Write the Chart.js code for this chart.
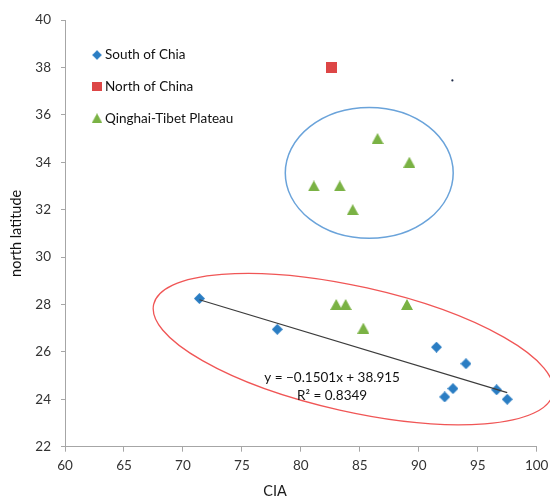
<!DOCTYPE html>
<html>
<head>
<meta charset="utf-8">
<script src="https://cdn.jsdelivr.net/npm/chart.js@4.4.1/dist/chart.umd.min.js"></script>
<style>
  html, body { margin: 0; padding: 0; background: #ffffff; }
  #wrap { width: 550px; height: 498px; }
</style>
</head>
<body>
<div id="wrap"><canvas id="c" width="550" height="498"></canvas></div>
<script>
// CIA (chemical index of alteration) against north latitude for three regions.
const southLabel = 'South of Chia';
const southCIA = [71.4, 78.0, 91.5, 94.0, 92.9, 92.2, 96.6, 97.5];
const southLat = [28.25, 26.95, 26.2, 25.5, 24.45, 24.1, 24.4, 24.0];

const northLabel = 'North of China';
const northCIA = [82.6];
const northLat = [38.0];

const plateauLabel = 'Qinghai-Tibet Plateau';
const plateauCIA = [86.5, 89.2, 81.1, 83.3, 84.4, 83.0, 83.8, 89.0, 85.3];
const plateauLat = [35, 34, 33, 33, 32, 28, 28, 28, 27];

// small dark speck above the plateau group
const speckCIA = [92.85];
const speckLat = [37.45];

// linear fit through the South of China samples
const fitSlope = -0.1501;
const fitIntercept = 38.915;
const fitR2 = 0.8349;

const xTitle = 'CIA';
const yTitle = 'north latitude';
const xMin = 60, xMax = 100, xStep = 5;
const yMin = 22, yMax = 40, yStep = 2;

// outlines around the two clusters (centre and semi-axes in data units)
const outlines = [
  { cx: 85.8, cy: 33.55, rx: 7.12, ry: 2.76, angle: 0, color: '#6aa3da', width: 1.5 },
  { cx: 84.45, cy: 26.12, rx: 17.35, ry: 2.64, angle: 12.6, color: '#f05656', width: 1.3 }
];

const toPoints = (xs, ys) => xs.map((x, i) => ({ x: x, y: ys[i] }));

const fitX0 = Math.min(...southCIA);
const fitX1 = Math.max(...southCIA);
const fitLine = [fitX0, fitX1].map(x => ({ x: x, y: fitSlope * x + fitIntercept }));
const fitText1 = 'y = \u2212' + Math.abs(fitSlope).toFixed(4) + 'x + ' + fitIntercept.toFixed(3);
const fitText2 = 'R\u00B2 = ' + fitR2.toFixed(4);

// marker images, centred on their bounding box
function marker(shape, w, h, color) {
  const c = document.createElement('canvas');
  c.width = w; c.height = h;
  const g = c.getContext('2d');
  g.fillStyle = color;
  g.beginPath();
  if (shape === 'diamond') {
    g.moveTo(w / 2, 0); g.lineTo(w, h / 2); g.lineTo(w / 2, h); g.lineTo(0, h / 2);
  } else if (shape === 'square') {
    g.rect(0, 0, w, h);
  } else {
    g.moveTo(w / 2, 0); g.lineTo(w, h); g.lineTo(0, h);
  }
  g.closePath();
  g.fill();
  return c;
}

const blue = '#2a7dc3';
const red = '#dd4646';
const green = '#7ab244';
const diamondImg = marker('diamond', 11, 11, blue);
const squareImg = marker('square', 11, 11, red);
const triangleImg = marker('triangle', 12, 11, green);

const FONT = "Lato, 'Open Sans', 'DejaVu Sans', sans-serif";

// cluster outlines, drawn beneath the markers
const outlinePlugin = {
  id: 'outlines',
  beforeDatasetsDraw(chart) {
    const { ctx, scales: { x, y } } = chart;
    const pxX = Math.abs(x.getPixelForValue(1) - x.getPixelForValue(0));
    const pxY = Math.abs(y.getPixelForValue(0) - y.getPixelForValue(1));
    ctx.save();
    outlines.forEach(o => {
      ctx.beginPath();
      ctx.ellipse(x.getPixelForValue(o.cx), y.getPixelForValue(o.cy),
        o.rx * pxX, o.ry * pxY, o.angle * Math.PI / 180, 0, Math.PI * 2);
      ctx.strokeStyle = o.color;
      ctx.lineWidth = o.width;
      ctx.stroke();
    });
    ctx.restore();
  }
};

// legend inside the plot, fit equation and x-axis title
const annotatePlugin = {
  id: 'annotate',
  afterDraw(chart) {
    const { ctx, chartArea: a, scales: { x, y } } = chart;
    ctx.save();
    const items = [
      { img: diamondImg, text: southLabel },
      { img: squareImg, text: northLabel },
      { img: triangleImg, text: plateauLabel }
    ];
    ctx.font = '13.5px ' + FONT;
    ctx.fillStyle = '#111111';
    ctx.textBaseline = 'middle';
    ctx.textAlign = 'left';
    items.forEach((it, i) => {
      const cy = a.top + 35 + i * 31.6;
      const cx = a.left + 32;
      const s = 0.88;
      ctx.drawImage(it.img, cx - it.img.width * s / 2, cy - it.img.height * s / 2,
        it.img.width * s, it.img.height * s);
      ctx.fillText(it.text, cx + 8, cy);
    });
    // fit equation
    ctx.textAlign = 'center';
    const ex = x.getPixelForValue(82.65);
    ctx.fillText(fitText1, ex, y.getPixelForValue(24.9));
    ctx.fillText(fitText2, ex, y.getPixelForValue(24.14));
    // x-axis title
    ctx.font = '14.5px ' + FONT;
    ctx.fillStyle = '#1a1a1a';
    ctx.fillText(xTitle, chart.width / 2, 491);
    ctx.restore();
  }
};

const axisColor = '#a6a6a6';

new Chart(document.getElementById('c'), {
  type: 'scatter',
  data: {
    datasets: [
      {
        label: 'fit',
        data: fitLine,
        showLine: true,
        borderColor: '#3c3c3c',
        borderWidth: 1.2,
        pointRadius: 0,
        fill: false
      },
      {
        label: southLabel,
        data: toPoints(southCIA, southLat),
        pointStyle: diamondImg
      },
      {
        label: northLabel,
        data: toPoints(northCIA, northLat),
        pointStyle: squareImg
      },
      {
        label: plateauLabel,
        data: toPoints(plateauCIA, plateauLat),
        pointStyle: triangleImg
      },
      {
        label: 'speck',
        data: toPoints(speckCIA, speckLat),
        pointStyle: 'circle',
        pointRadius: 1.1,
        backgroundColor: '#1e2a48',
        borderWidth: 0
      }
    ]
  },
  options: {
    responsive: false,
    animation: false,
    events: [],
    layout: { padding: { left: 0, top: 20, right: 13.3, bottom: 0 } },
    plugins: {
      legend: { display: false },
      tooltip: { enabled: false }
    },
    scales: {
      x: {
        type: 'linear',
        min: xMin, max: xMax,
        ticks: {
          stepSize: xStep,
          padding: 6,
          color: '#333333',
          font: { family: FONT, size: 13.5 }
        },
        grid: { drawOnChartArea: false, drawTicks: true, tickLength: 5, color: axisColor },
        border: { color: axisColor, width: 1 },
        afterFit(scale) {
          scale.height = 51.3;
          scale.paddingLeft = 0;
          scale.paddingRight = 0;
        }
      },
      y: {
        type: 'linear',
        min: yMin, max: yMax,
        ticks: {
          stepSize: yStep,
          padding: 10,
          color: '#333333',
          font: { family: FONT, size: 13.5 }
        },
        grid: { drawOnChartArea: false, drawTicks: true, tickLength: 4, color: axisColor },
        border: { color: axisColor, width: 1 },
        title: {
          display: true,
          text: yTitle,
          color: '#111111',
          font: { family: FONT, size: 14.5 },
          padding: { top: 8, bottom: 0 }
        },
        afterFit(scale) {
          scale.width = 65;
          scale.paddingTop = 0;
          scale.paddingBottom = 0;
        }
      }
    }
  },
  plugins: [outlinePlugin, annotatePlugin]
});
</script>
</body>
</html>
